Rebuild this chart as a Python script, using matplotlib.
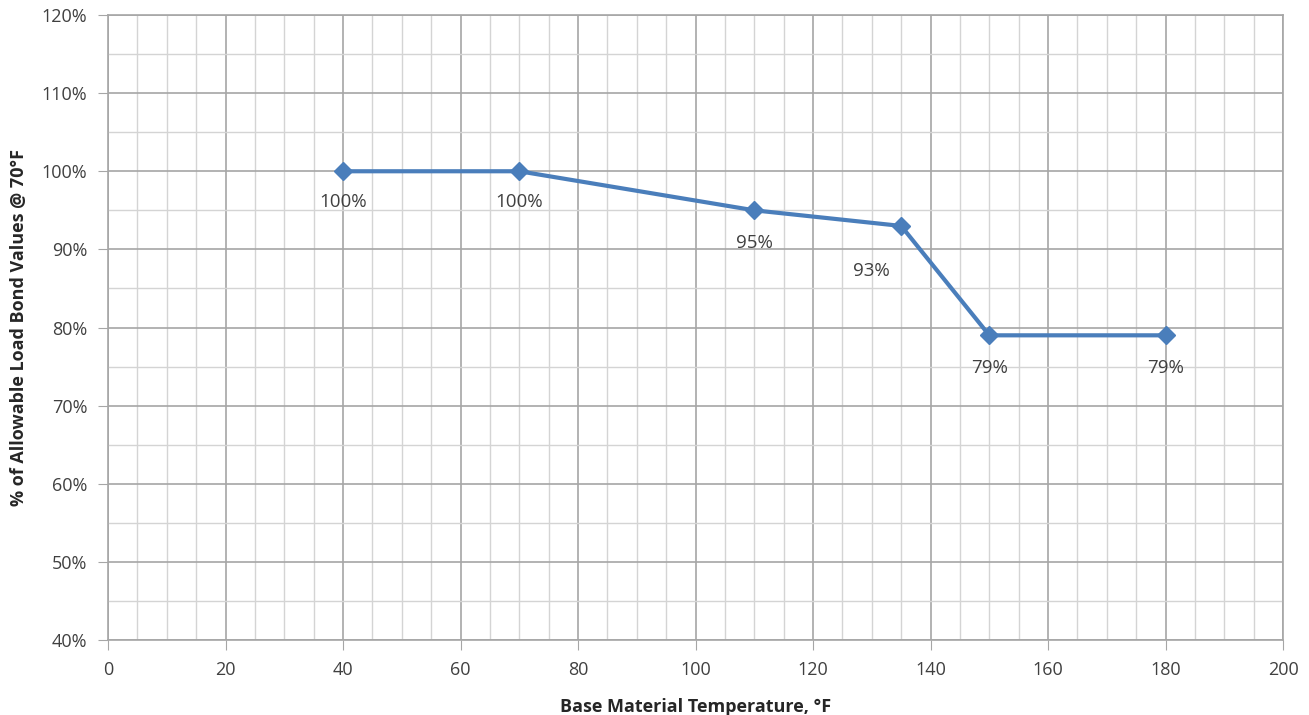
import matplotlib.pyplot as plt
from matplotlib.ticker import MultipleLocator, FuncFormatter

plt.rcParams['font.family'] = ['Open Sans', 'DejaVu Sans']

# Dados
temp_f = [40, 70, 110, 135, 150, 180]
pct_allow = [100, 100, 95, 93, 79, 79]
labels = ['100%', '100%', '95%', '93%', '79%', '79%']
# deslocamento dos rótulos (pixels)
label_offsets = [(0, -31), (0, -31), (0, -33), (-30, -45), (0, -33), (0, -33)]

fig = plt.figure(figsize=(13.09, 7.15), dpi=100)
ax = fig.add_axes([0.0825, 0.1049, 0.8977, 0.8741])

ax.plot(temp_f, pct_allow, color='#4A7EBB', lw=3, marker='D', ms=9,
        markeredgecolor='#4A7EBB', zorder=3)

for x, y, lab, (dx, dy) in zip(temp_f, pct_allow, labels, label_offsets):
    ax.annotate(lab, (x, y), xytext=(dx, dy), textcoords='offset pixels',
                ha='center', va='center', fontsize=13.5, color='#404040')

ax.set_xlim(0, 200)
ax.set_ylim(40, 120)
ax.xaxis.set_major_locator(MultipleLocator(20))
ax.xaxis.set_minor_locator(MultipleLocator(5))
ax.yaxis.set_major_locator(MultipleLocator(10))
ax.yaxis.set_minor_locator(MultipleLocator(5))
ax.yaxis.set_major_formatter(FuncFormatter(lambda v, p: f"{v:.0f}%"))

ax.grid(which='major', color='#A6A6A6', lw=1.2)
ax.grid(which='minor', color='#D4D4D4', lw=1.0)
ax.set_axisbelow(True)

for s in ax.spines.values():
    s.set_color('#A6A6A6')
    s.set_linewidth(1.2)

ax.tick_params(which='major', length=7, color='#A6A6A6', labelsize=13,
               labelcolor='#404040', pad=8)
ax.tick_params(which='minor', length=0)

ax.set_xlabel("Base Material Temperature, °F", fontsize=13, fontweight='bold',
              color='#262626', labelpad=14)
ax.set_ylabel("% of Allowable Load Bond Values @ 70°F", fontsize=13,
              fontweight='bold', color='#262626', labelpad=10)

fig.savefig('out.png', dpi=100)
